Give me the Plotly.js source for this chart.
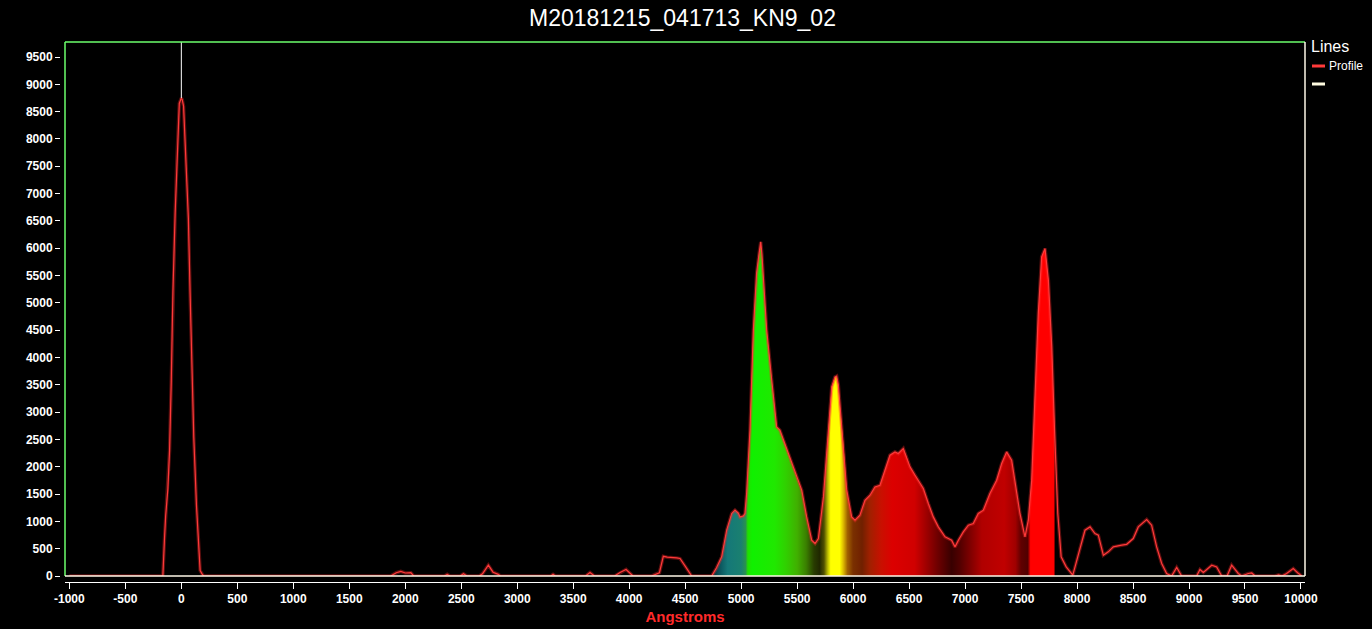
<!DOCTYPE html>
<html>
<head>
<meta charset="utf-8">
<script src="https://cdn.plot.ly/plotly-3.0.1.min.js"></script>
<style>html,body{margin:0;padding:0;background:#000;}#chart{width:1372px;height:629px;}</style>
</head>
<body>
<div id="chart"></div>
<script>
// ---- data ----
const wavelengths = [-1000,-165,-150,-140,-120,-105,-90,-75,-55,-40,-18,0,8,20,42,63,78,96,111,135,152,168,185,200,
1870,1920,1960,2000,2050,2075,2350,2375,2400,2490,2520,2550,2660,2690,2742,2784,2830,2850,3300,3320,3340,3610,3650,3690,
3870,3918,3972,4034,4200,4230,4270,4305,4340,4425,4454,4500,4558,4737,4780,4826,4871,4916,4945,4975,4990,5020,5034,5049,
5079,5109,5138,5160,5175,5185,5198,5228,5273,5317,5346,5421,5526,5541,5585,5630,5660,5690,5735,5779,5809,5838,5853,5868,
5883,5913,5943,5987,6017,6061,6106,6151,6195,6240,6285,6329,6374,6404,6448,6478,6508,6553,6597,6627,6672,6716,6761,6821,
6880,6910,6940,6984,7029,7073,7118,7163,7222,7282,7327,7371,7416,7446,7490,7535,7565,7595,7624,7654,7684,7714,7744,7774,
7799,7828,7858,7903,7962,8026,8071,8116,8160,8190,8235,8279,8324,8399,8443,8502,8547,8622,8666,8711,8756,8800,8845,8890,
8934,9068,9098,9128,9203,9247,9292,9340,9381,9440,9470,9530,9560,9590,9768,9800,9830,9872,9931,9970,10006];
const intensity = [0,0,700,1100,1600,2300,3550,5200,6650,7600,8650,8750,8720,8600,7600,6550,5200,3750,2550,1300,650,100,40,0,
0,60,85,55,60,0,0,30,0,0,40,0,0,40,200,70,30,0,0,30,0,0,65,0,
0,65,120,0,0,30,60,360,345,330,320,180,0,0,150,350,840,1145,1205,1150,1080,1100,1144,1510,
2670,4500,5540,5900,6116,5900,5414,4500,3584,2730,2669,2242,1631,1570,1082,655,595,686,1448,2669,3462,3645,3660,3500,
3096,2425,1570,1082,1021,1113,1387,1479,1631,1662,1937,2211,2272,2242,2333,2181,1998,1845,1693,1601,1327,1082,899,716,
655,533,655,808,930,961,1144,1205,1510,1754,2059,2272,2120,1693,1144,716,1021,1754,3279,4805,5841,5994,5414,4194,
2669,1144,350,167,15,472,838,899,778,747,381,442,533,564,580,686,899,1034,930,533,229,46,0,156,
0,0,119,64,198,167,0,0,198,46,0,46,55,0,0,20,0,46,137,60,0];

// zero-order marker line (white)
const zeroOrderX = [0, 0];
const zeroOrderY = [8750, 9775];

// spectral fill range and colour stops (wavelength, colour)
const fillStart = 4737, fillEnd = 7800;
const spectrumStopsWl = [4737,4800,4880,5000,5040,5060,5100,5300,5400,5500,5580,5650,5700,5740,5775,5800,5880,5910,5950,6000,6080,6150,6250,6350,6550,6650,6750,6880,6950,7050,7150,7350,7450,7500,7560,7585,7800];
const spectrumStopsColor = ['#00282c','#0a4f58','#157878','#1a8070','#2a9050','#20e000','#10f000','#20e800','#30d000','#40b000','#3a8000','#283c00','#202800','#505000','#c0c000','#ffff00','#ffff00','#e0c000','#a06000','#7a3000','#702000','#a02000','#c81000','#dc0000','#d00000','#a00000','#700000','#380000','#500000','#800000','#b00000','#c00000','#a00000','#600000','#500000','#ff0000','#ff0000'];

const xTickVals = [-1000,-500,0,500,1000,1500,2000,2500,3000,3500,4000,4500,5000,5500,6000,6500,7000,7500,8000,8500,9000,9500,10000];
const yTickVals = [0,500,1000,1500,2000,2500,3000,3500,4000,4500,5000,5500,6000,6500,7000,7500,8000,8500,9000,9500];

// ---- build ----
const fillX = [], fillY = [];
wavelengths.forEach((w, i) => { if (w >= fillStart && w <= fillEnd) { fillX.push(w); fillY.push(intensity[i]); } });
const s0 = spectrumStopsWl[0], s1 = spectrumStopsWl[spectrumStopsWl.length - 1];
const colorscale = spectrumStopsWl.map((w, i) => [(w - s0) / (s1 - s0), spectrumStopsColor[i]]);

const W = 1372, H = 629;
const M = {l: 60, r: 67, t: 42, b: 47};
const px = x => (x - M.l) / (W - M.l - M.r);
const py = y => 1 - (y - M.t) / (H - M.t - M.b);

const font = 'Liberation Sans, Arial, sans-serif';

const traces = [
  {x: fillX, y: fillY, type: 'scatter', mode: 'none', fill: 'tozeroy',
   fillgradient: {type: 'horizontal', colorscale: colorscale, start: s0, stop: s1},
   showlegend: false, hoverinfo: 'skip'},
  {x: wavelengths, y: intensity, type: 'scatter', mode: 'lines',
   line: {color: 'rgba(255,40,40,0.35)', width: 3.5}, showlegend: false, hoverinfo: 'skip'},
  {x: wavelengths, y: intensity, type: 'scatter', mode: 'lines', name: 'Profile',
   line: {color: '#ff3a3a', width: 1.2}, showlegend: false},
  {x: zeroOrderX, y: zeroOrderY, type: 'scatter', mode: 'lines', name: '',
   line: {color: '#ffffff', width: 1}, showlegend: false}
];

const green = '#6cff6c';
const layout = {
  width: W, height: H,
  margin: M,
  paper_bgcolor: '#000', plot_bgcolor: '#000',
  showlegend: false,
  title: {text: 'M20181215_041713_KN9_02', font: {family: font, size: 23, color: '#fff'},
          x: 0.5, xref: 'paper', xanchor: 'center', y: 1 - 18 / H, yref: 'container', yanchor: 'middle'},
  xaxis: {range: [-1039, 10036], domain: [5 / (W - M.l - M.r), 1], anchor: 'free', position: 0,
          tickvals: xTickVals, ticktext: xTickVals.map(String),
          showgrid: false, zeroline: false, showline: true, linecolor: '#fff', linewidth: 1,
          ticks: 'outside', ticklen: 6, tickcolor: '#fff', tickwidth: 1,
          tickfont: {family: font, size: 12, color: '#fff', weight: 'bold'},
          title: {text: 'Angstroms', font: {family: font, size: 15, color: '#ff2a2a', weight: 'bold'}, standoff: 6}},
  yaxis: {range: [0, 9775], domain: [6 / (H - M.t - M.b), 1], anchor: 'free', position: 0,
          tickvals: yTickVals, ticktext: yTickVals.map(String),
          showgrid: false, zeroline: false, showline: false,
          ticks: 'outside', ticklen: 5, tickcolor: '#fff', tickwidth: 1,
          tickfont: {family: font, size: 12, color: '#fff', weight: 'bold'}},
  shapes: [
    {type: 'line', xref: 'x domain', yref: 'y domain', x0: 0, x1: 0, y0: 0, y1: 1, line: {color: green, width: 1.5}},
    {type: 'line', xref: 'x domain', yref: 'y domain', x0: 0, x1: 1, y0: 1, y1: 1, line: {color: green, width: 1.5}},
    {type: 'line', xref: 'x domain', yref: 'y domain', x0: 1, x1: 1, y0: 0, y1: 1, line: {color: '#fff8e8', width: 1.5}},
    {type: 'line', xref: 'x domain', yref: 'y domain', x0: 0, x1: 1, y0: 0, y1: 0, line: {color: '#fff8e8', width: 1.5}},
    // legend symbols
    {type: 'line', xref: 'paper', yref: 'paper', x0: px(1312), x1: px(1325), y0: py(66), y1: py(66), line: {color: '#ff3a3a', width: 3}},
    {type: 'line', xref: 'paper', yref: 'paper', x0: px(1312), x1: px(1325), y0: py(84), y1: py(84), line: {color: '#fffbe0', width: 3}}
  ],
  annotations: [
    {text: 'Lines', xref: 'paper', yref: 'paper', x: px(1309), y: py(46), xanchor: 'left', yanchor: 'middle',
     showarrow: false, font: {family: font, size: 16, color: '#fff'}},
    {text: 'Profile', xref: 'paper', yref: 'paper', x: px(1327), y: py(66), xanchor: 'left', yanchor: 'middle',
     showarrow: false, font: {family: font, size: 12, color: '#fff'}}
  ]
};

Plotly.newPlot('chart', traces, layout, {displayModeBar: false, staticPlot: true});
</script>
</body>
</html>
